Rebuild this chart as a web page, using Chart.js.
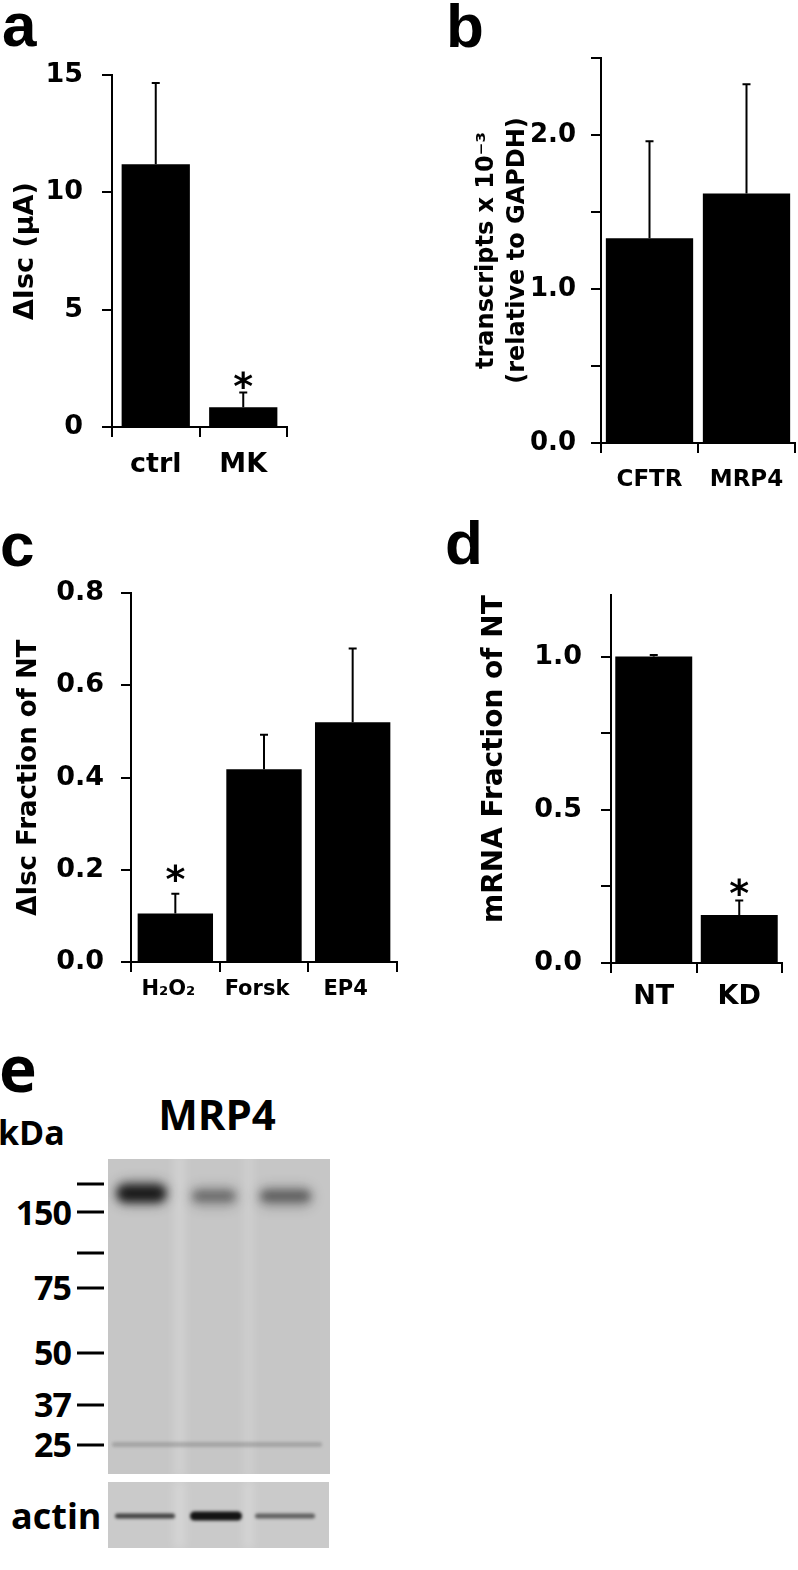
<!DOCTYPE html>
<html>
<head>
<meta charset="utf-8">
<script src="https://cdn.jsdelivr.net/npm/chart.js@4.4.1/dist/chart.umd.min.js"></script>
<style>
  html, body { margin: 0; padding: 0; background: #fff; }
  body { position: relative; width: 798px; height: 1570px; overflow: hidden; }
  canvas { position: absolute; }
  .lbl { position: absolute; line-height: 1; white-space: nowrap; color: #000; font-weight: bold; }
  .panel { font-family: 'Liberation Sans', Arial, sans-serif; font-size: 62px; }
  .blot { font-family: 'Open Sans', sans-serif; }
</style>
</head>
<body>
<div class="lbl panel" style="left:2px;top:-6px">a</div>
<div class="lbl panel" style="left:446px;top:-5px">b</div>
<div class="lbl panel" style="left:0px;top:514px">c</div>
<div class="lbl panel" style="left:445px;top:512px">d</div>
<div class="lbl blot" style="left:-1px;top:1036px;font-size:64px">e</div>
<div class="lbl blot" style="left:-2px;top:1115px;font-size:34px">kDa</div>
<div class="lbl blot" style="left:117px;width:200px;text-align:center;top:1093px;font-size:42px">MRP4</div>
<div class="lbl blot" style="left:11px;top:1498px;font-size:36px">actin</div>
<div id="markers"></div>

<canvas id="chartA" width="300" height="460" style="left:0;top:40px"></canvas>
<canvas id="chartB" width="418" height="500" style="left:380px;top:0"></canvas>
<canvas id="chartC" width="420" height="460" style="left:0;top:560px"></canvas>
<canvas id="chartD" width="378" height="460" style="left:420px;top:560px"></canvas>
<canvas id="blot" width="280" height="420" style="left:60px;top:1150px"></canvas>

<script>
// panel a - short circuit current, ctrl vs MK
const aLabels = ['ctrl', 'MK'];
const aMeans = [11.2, 0.84];
const aErrors = [3.47, 0.63];
const aStars = [false, true];

// panel b - transcripts relative to GAPDH
const bLabels = ['CFTR', 'MRP4'];
const bMeans = [1.33, 1.62];
const bErrors = [0.63, 0.71];
const bStars = [false, false];

// panel c - dIsc as fraction of NT
const cLabels = ['H\u2082O\u2082', 'Forsk', 'EP4'];
const cMeans = [0.105, 0.418, 0.52];
const cErrors = [0.043, 0.075, 0.16];
const cStars = [true, false, false];

// panel d - mRNA fraction of NT
const dLabels = ['NT', 'KD'];
const dMeans = [1.0, 0.157];
const dErrors = [0.005, 0.047];
const dStars = [false, true];

// panel e - western blot
const markerKDa = ['150', '75', '50', '37', '25'];
const mrp4Band = [0.95, 0.42, 0.5];
const actinBand = [0.7, 0.95, 0.55];

Chart.defaults.font.family = "'DejaVu Sans', Verdana, sans-serif";
Chart.defaults.font.weight = 'bold';
Chart.defaults.color = '#000';

const STAR_SIZE = 38;

// upper error bars + significance stars, placed with the y scale
const errorBarPlugin = {
  id: 'errorBars',
  afterDatasetsDraw(chart, args, opts) {
    const ctx = chart.ctx;
    const y = chart.scales.y;
    const means = chart.data.datasets[0].data;
    const meta = chart.getDatasetMeta(0);
    ctx.save();
    ctx.strokeStyle = '#000';
    ctx.lineWidth = 2;
    meta.data.forEach((bar, i) => {
      const top = y.getPixelForValue(means[i] + opts.errors[i]);
      ctx.beginPath();
      ctx.moveTo(bar.x, bar.y);
      ctx.lineTo(bar.x, top);
      ctx.moveTo(bar.x - 4, top);
      ctx.lineTo(bar.x + 4, top);
      ctx.stroke();
      if (opts.stars[i]) {
        ctx.fillStyle = '#000';
        ctx.font = "bold " + STAR_SIZE + "px 'DejaVu Sans'";
        ctx.textAlign = 'center';
        ctx.textBaseline = 'alphabetic';
        ctx.fillText('*', bar.x, top - opts.starGap + 0.57 * STAR_SIZE);
      }
    });
    ctx.restore();
  }
};

function barChart(id, labels, means, errors, stars, s) {
  const yScale = {
    min: 0,
    max: s.max,
    grid: { drawOnChartArea: false, tickLength: 10, color: '#000', lineWidth: 2 },
    border: { color: '#000', width: 2 },
    ticks: { stepSize: s.step, padding: s.yPad, font: { size: s.yFont, weight: 'bold' }, callback: s.fmt },
    title: {
      display: true,
      text: s.title,
      align: s.titleAlign || 'center',
      color: '#000',
      font: s.titleFont,
      padding: { top: s.titlePad, bottom: 0 }
    },
    afterFit: sc => { sc.width = s.yWidth; }
  };
  if (s.keep !== undefined) {
    yScale.afterBuildTicks = sc => { sc.ticks = sc.ticks.filter(t => t.value <= s.keep + 1e-9); };
  }
  return new Chart(document.getElementById(id), {
    type: 'bar',
    data: {
      labels: labels,
      datasets: [{ data: means, backgroundColor: '#000', borderWidth: 0, barPercentage: s.barPct, categoryPercentage: 1 }]
    },
    options: {
      responsive: false,
      animation: false,
      events: [],
      layout: { padding: s.pad },
      plugins: {
        legend: { display: false },
        tooltip: { enabled: false },
        errorBars: { errors: errors, stars: stars, starGap: s.starGap }
      },
      scales: {
        x: {
          grid: { drawOnChartArea: false, tickLength: 10, color: '#000', lineWidth: 2, offset: true },
          border: { color: '#000', width: 2 },
          ticks: { font: { size: s.xFont, weight: 'bold' }, padding: s.xPad, labelOffset: s.xShift || 0, maxRotation: 0, autoSkip: false },
          afterFit: sc => { sc.height = s.xHeight; }
        },
        y: yScale
      }
    },
    plugins: [errorBarPlugin]
  });
}

const oneDecimal = v => v.toFixed(1);

barChart('chartA', aLabels, aMeans, aErrors, aStars, {
  max: 15, step: 5, fmt: v => String(v),
  pad: { top: 29, left: 0, right: 13, bottom: 13 },
  yWidth: 112, xHeight: 60, barPct: 0.78,
  yFont: 27, yPad: 19, xFont: 27, xPad: 12,
  title: '\u0394Isc (\u03bcA)', titleFont: { size: 27, weight: 'bold' }, titlePad: 10,
  starGap: 15
});

barChart('chartB', bLabels, bMeans, bErrors, bStars, {
  max: 2.5, step: 0.5, fmt: v => (Math.abs(v - Math.round(v)) < 1e-9 ? v.toFixed(1) : ''),
  pad: { top: 58, left: 0, right: 3, bottom: 7 },
  yWidth: 221, xHeight: 50, barPct: 0.9,
  yFont: 26, yPad: 15, xFont: 23, xPad: 13,
  title: ['transcripts x 10\u207b\u00b3', '(relative to GAPDH)'],
  titleFont: { size: 24, weight: 'bold', lineHeight: 1.27 }, titlePad: 92,
  starGap: 15
});

barChart('chartC', cLabels, cMeans, cErrors, cStars, {
  max: 0.8, step: 0.2, fmt: oneDecimal,
  pad: { top: 27, left: 0, right: 23, bottom: 13 },
  yWidth: 131, xHeight: 45, barPct: 0.85,
  yFont: 27, yPad: 17, xFont: 21, xPad: 5, xShift: -7,
  title: '\u0394Isc Fraction of NT', titleFont: { size: 26, weight: 'bold' }, titlePad: 14,
  starGap: 23
});

barChart('chartD', dLabels, dMeans, dErrors, dStars, {
  max: 1.2, step: 0.25, keep: 1.0,
  fmt: v => (Math.abs(v * 2 - Math.round(v * 2)) < 1e-9 ? v.toFixed(1) : ''),
  pad: { top: 28, left: 0, right: 16, bottom: 7 },
  yWidth: 191, xHeight: 50, barPct: 0.9,
  yFont: 27, yPad: 19, xFont: 27, xPad: 8,
  title: 'mRNA Fraction of NT', titleAlign: 'end', titleFont: { size: 28, weight: 'bold' }, titlePad: 58,
  starGap: 16
});

// ---- western blot (panel e) ----
const markerTop = [1195, 1270, 1335, 1387, 1427];
const markerHolder = document.getElementById('markers');
markerKDa.forEach((m, i) => {
  const el = document.createElement('div');
  el.className = 'lbl blot';
  el.style.cssText = 'left:0;width:71px;text-align:right;font-size:34px;letter-spacing:-1px;top:' + markerTop[i] + 'px';
  el.textContent = m;
  markerHolder.appendChild(el);
});

const bctx = document.getElementById('blot').getContext('2d');
const laneX = [[55, 108], [130, 178], [198, 253]];
const actinX = [[55, 115], [130, 182], [195, 255]];

// membranes
bctx.fillStyle = '#c6c6c6';
bctx.fillRect(48, 9, 222, 315);
bctx.fillStyle = '#cacaca';
bctx.fillRect(48, 332, 221, 66);

function smudge(x0, x1, y0, y1, color, blur) {
  bctx.save();
  bctx.filter = 'blur(' + blur + 'px)';
  bctx.fillStyle = color;
  bctx.beginPath();
  bctx.roundRect(x0, y0, x1 - x0, y1 - y0, (y1 - y0) / 2);
  bctx.fill();
  bctx.restore();
}

// lighter streaks between lanes
bctx.save();
bctx.beginPath();
bctx.rect(48, 9, 222, 315);
bctx.rect(48, 332, 221, 66);
bctx.clip();
smudge(113, 126, 0, 330, 'rgba(255,255,255,0.18)', 4);
smudge(183, 194, 0, 330, 'rgba(255,255,255,0.15)', 4);
smudge(113, 126, 330, 400, 'rgba(255,255,255,0.2)', 4);
smudge(183, 194, 330, 400, 'rgba(255,255,255,0.2)', 4);
// faint low band near 25 kDa
smudge(52, 262, 292, 297, 'rgba(90,90,90,0.3)', 1.5);

// MRP4 bands
mrp4Band.forEach((a, i) => {
  const [x0, x1] = laneX[i];
  const yOff = i === 0 ? 0 : 5;
  smudge(x0, x1, 31 + yOff, 55 + yOff / 2, 'rgba(20,20,20,' + (a * 0.5) + ')', 6);
  smudge(x0 + 3, x1 - 3, 36 + yOff, 51, 'rgba(10,10,10,' + (a * 0.9) + ')', 4);
});

// actin bands
actinBand.forEach((a, i) => {
  const [x0, x1] = actinX[i];
  const h = i === 1 ? 9 : 5;
  smudge(x0, x1, 366 - h / 2, 366 + h / 2, 'rgba(10,10,10,' + a + ')', 1.5);
});
bctx.restore();

// molecular weight marker dashes
bctx.strokeStyle = '#000';
bctx.lineWidth = 3;
[34, 62, 103, 138, 203, 255, 295].forEach(y => {
  bctx.beginPath();
  bctx.moveTo(17, y);
  bctx.lineTo(44, y);
  bctx.stroke();
});
</script>
</body>
</html>
